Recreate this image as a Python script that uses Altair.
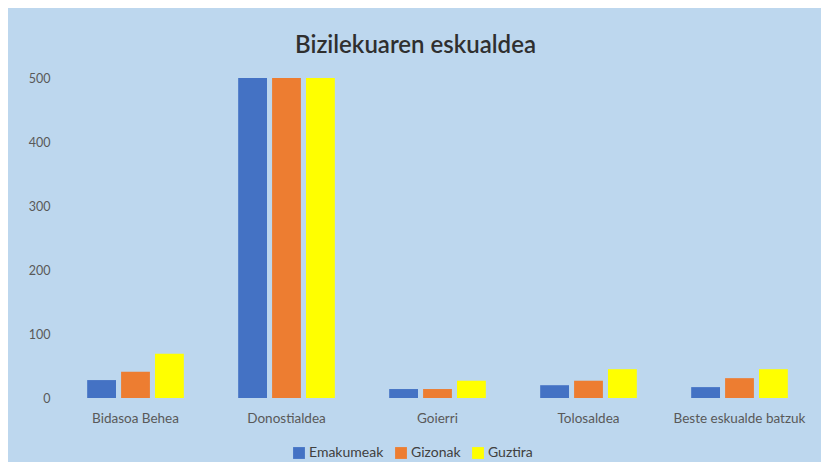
import altair as alt
import pandas as pd

categories = ["Bidasoa Behea", "Donostialdea", "Goierri", "Tolosaldea", "Beste eskualde batzuk"]
series = ["Emakumeak", "Gizonak", "Guztira"]
emakumeak = [28, 500, 14, 20, 17]
gizonak = [41, 500, 14, 27, 31]
guztira = [69, 500, 27, 45, 45]
colors = ["#4472C4", "#ED7D31", "#FFFF00"]

rows = []
for i, c in enumerate(categories):
    for s, vals in zip(series, [emakumeak, gizonak, guztira]):
        rows.append({"eskualdea": c, "serie": s, "balioa": vals[i]})
df = pd.DataFrame(rows)

FONT = "Lato"
TXT = "#595959"

chart = alt.Chart(df).mark_bar().encode(
    x=alt.X("eskualdea:N", sort=categories, title=None,
            scale=alt.Scale(paddingInner=0.36, paddingOuter=0.18),
            axis=alt.Axis(labelAngle=0, domain=False, ticks=False, labelPadding=13,
                          labelFontSize=13.5, labelColor=TXT, labelFont=FONT, grid=False)),
    xOffset=alt.XOffset("serie:N", sort=series,
                        scale=alt.Scale(paddingInner=0.15, paddingOuter=0)),
    y=alt.Y("balioa:Q", title=None,
            scale=alt.Scale(domain=[0, 500], nice=False),
            axis=alt.Axis(values=[0, 100, 200, 300, 400, 500], domain=False, ticks=False,
                          grid=False, labelPadding=10, labelFontSize=12.5,
                          labelColor=TXT, labelFont=FONT)),
    color=alt.Color("serie:N", sort=series,
                    scale=alt.Scale(domain=series, range=colors),
                    legend=alt.Legend(title=None, orient="none", direction="horizontal",
                                      legendX=232, legendY=368, symbolType="square",
                                      symbolSize=140, symbolStrokeWidth=0,
                                      labelFontSize=14, labelColor="#404040", labelFont=FONT,
                                      columnPadding=10, labelOffset=3)),
).properties(
    width=755,
    height=320,
    title=alt.TitleParams("Bizilekuaren eskualdea", fontSize=24, font=FONT,
                          fontWeight=600, color="#2F2F2F", anchor="middle",
                          dx=-22, offset=14),
    autosize=alt.AutoSizeParams(type="none"),
    padding={"left": 52, "top": 70, "right": 6, "bottom": 64},
).configure(
    background="#BDD7EE",
).configure_view(
    stroke=None,
)

chart.save("out.html", embed_options={"renderer": "svg", "actions": False})
